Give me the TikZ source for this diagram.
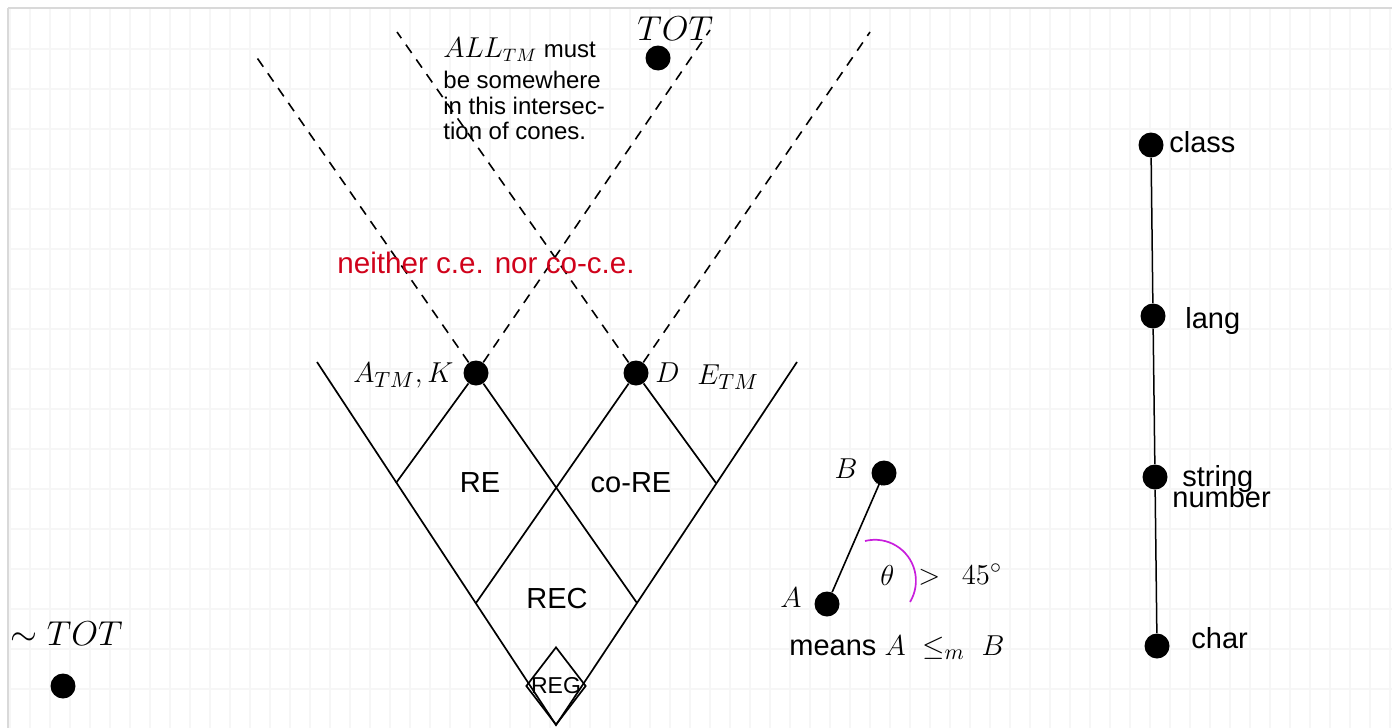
\documentclass[tikz,border=0pt]{standalone}
\usepackage{fontspec}
\setmainfont{Liberation Sans}
\usetikzlibrary{shapes.geometric,arrows.meta}
\definecolor{redtxt}{RGB}{208,2,27}
\definecolor{arcpurple}{RGB}{200,30,220}
\definecolor{gridc}{RGB}{246,246,246}
\tikzset{
  ptdot/.style={circle, fill=black, inner sep=0pt, minimum size=12.5pt},
  lbl/.style={inner sep=0pt, font=\fontsize{14.5}{17}\selectfont},
  mlbl/.style={inner sep=0pt, font=\fontsize{15.6}{18}\selectfont},
  biglbl/.style={inner sep=0pt, font=\fontsize{17.5}{20}\selectfont},
  cone/.style={line width=0.8pt, dash pattern=on 5pt off 4pt},
  solidedge/.style={line width=0.85pt},
}
\begin{document}
\begin{tikzpicture}[x=0.5pt,y=-0.5pt]
\useasboundingbox (0,0) rectangle (1392,728);
% grid
\foreach \gx in {10,30,...,1390} \draw[gridc, line width=0.9pt] (\gx,9) -- (\gx,728);
\foreach \gy in {49,89,...,728} \draw[gridc, line width=0.9pt] (9,\gy) -- (1392,\gy);
\draw[black!15, line width=0.6pt] (8,8) -- (8,728) (8,8) -- (1392,8);

% coordinates of the cone outline
\coordinate (vL) at (317,362);
\coordinate (vR) at (797,362);
\coordinate (vB) at (556,725);
\coordinate (eL) at (396,483);
\coordinate (eR) at (716,483);
\coordinate (mL) at (476,603);
\coordinate (mR) at (637,603);
\coordinate (kUL) at (253,52);
\coordinate (kUR) at (710,30);
\coordinate (dUL) at (397,32);
\coordinate (dUR) at (870,32);

% dots
\node[ptdot] (K) at (476,373) {};
\node[ptdot] (D) at (636,373) {};
\node[ptdot] (TOT) at (658,58) {};
\node[ptdot] (NTOT) at (63,686) {};
\node[ptdot] (B) at (884,473) {};
\node[ptdot] (A) at (827,604) {};
\node[ptdot] (class) at (1151,145) {};
\node[ptdot] (lang) at (1153,316) {};
\node[ptdot] (string) at (1155,477) {};
\node[ptdot] (char) at (1157,646) {};

% solid lines
\draw[solidedge] (vL) -- (vB) -- (vR);
\draw[solidedge] (K) -- (eL);
\draw[solidedge] (K) -- (mR);
\draw[solidedge] (D) -- (mL);
\draw[solidedge] (D) -- (eR);

% dashed cones
\draw[cone] (K) -- (kUL);
\draw[cone] (K) -- (kUR);
\draw[cone] (D) -- (dUL);
\draw[cone] (D) -- (dUR);

% REG diamond
\node[diamond, draw, solidedge, minimum width=30pt, minimum height=39pt, inner sep=0pt] (regd) at (556,686) {};
\node[inner sep=0pt, font=\fontsize{11.5}{13}\selectfont] (reg) at (556,686) {REG};

% region labels
\node[lbl] (re) at (480,483) {RE};
\node[lbl] (core) at (631,483) {co-RE};
\node[lbl] (rec) at (557,599) {REC};
\node[inner sep=0pt, font=\fontsize{14.8}{17}\selectfont, text=redtxt] (neither) at (486,263) {neither c.e. nor co-c.e.};

% math labels
\node[mlbl, anchor=base east] (Klbl) at (454,382) {$A_{TM},K$};
\node[mlbl, anchor=base west] (Dlbl) at (655,382) {$D$};
\node[mlbl, anchor=base west] (Elbl) at (697,384) {$E_{TM}$};
\node[biglbl, anchor=base west] (TOTlbl) at (637,40) {$TOT$};
\node[biglbl, anchor=base west] (NTOTlbl) at (10,645) {$\sim TOT$};

% ALL_TM note
\node[anchor=north west, inner sep=0pt, align=left, font=\fontsize{12}{12.8}\selectfont] (note) at (443,37)
  {{\fontsize{13.5}{13}\selectfont$ALL_{TM}$} must\\[3pt]be somewhere\\in this intersec-\\tion of cones.};

% reduction legend
\draw[line width=0.8pt, -{Stealth[length=4pt,width=3.5pt]}, shorten >=-4pt] (A) -- (B);
\coordinate (arcS) at (865,541);
\draw[arcpurple, line width=0.85pt] (arcS) arc[start angle=104, end angle=-31, radius=20.5pt];
\node[mlbl, anchor=base east] (Blbl) at (858,478) {$B$};
\node[mlbl, anchor=base west] (Albl) at (780,607) {$A$};
\node[mlbl, anchor=base west] (theta) at (880,585) {$\theta$};
\node[mlbl, anchor=base west] (gt) at (918,584) {$>\ \,45^{\circ}$};
\node[lbl, anchor=base west] (means) at (789,655) {means {\fontsize{15.6}{18}\selectfont$A\ \leq_{m}\ B$}};

% right column
\draw[line width=0.75pt] (class) -- (lang) -- (string) -- (char);
\node[lbl, anchor=base west] (classlbl) at (1169,152) {class};
\node[lbl, anchor=base west] (langlbl) at (1185,328) {lang};
\node[lbl, anchor=base west] (stringlbl) at (1182,486) {string};
\node[lbl, anchor=base west] (numberlbl) at (1172,507) {number};
\node[lbl, anchor=base west] (charlbl) at (1191,648) {char};
\end{tikzpicture}
\end{document}
